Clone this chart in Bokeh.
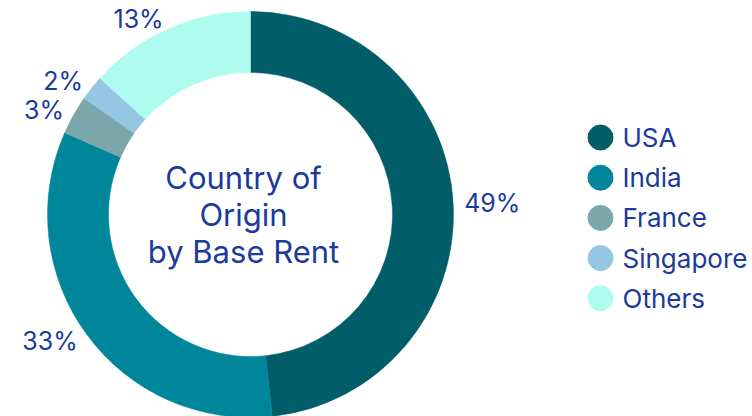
import math
from bokeh.plotting import figure
from bokeh.models import ColumnDataSource, Range1d
from bokeh.core.properties import value
from bokeh.embed import file_html
from bokeh.resources import INLINE

countries = ["USA", "India", "France", "Singapore", "Others"]
shares = [48.3, 33.3, 3.1, 2.0, 13.3]
share_labels = ["49%", "33%", "3%", "2%", "13%"]
colors = ["#015e69", "#00869a", "#7aa7ab", "#95c7e5", "#b0fbf0"]
center_title = ["Country of", "Origin", "by Base Rent"]

W, H = 752, 416
FONT = "Inter"
TXT = "#1a3a9c"

p = figure(width=W, height=H, output_backend="svg", toolbar_location=None,
           x_range=Range1d(0, W), y_range=Range1d(0, H), min_border=0)
p.axis.visible = False
p.grid.visible = False
p.outline_line_color = None
p.background_fill_color = "white"
p.border_fill_color = "white"

cx, cy = 250, H - 214
r_in, r_out = 142, 203

total = sum(shares)
starts, ends, lx, ly, align = [], [], [], [], []
acc = 0.0
for s in shares:
    t0 = acc / total * 2 * math.pi
    acc += s
    t1 = acc / total * 2 * math.pi
    starts.append(math.pi / 2 - t0)
    ends.append(math.pi / 2 - t1)
    mid = (t0 + t1) / 2
    rl = 214
    lx.append(cx + rl * math.sin(mid))
    ly.append(cy + rl * math.cos(mid))
    align.append("left" if math.sin(mid) >= 0 else "right")

src = ColumnDataSource(dict(start=starts, end=ends, color=colors,
                            lx=lx, ly=ly, lab=share_labels, align=align))
p.annular_wedge(x=cx, y=cy, inner_radius=r_in, outer_radius=r_out,
                start_angle="start", end_angle="end", direction="clock",
                fill_color="color", line_color="color", line_width=0.5, source=src)

p.text(x="lx", y="ly", text="lab", text_align="align", text_baseline="middle",
       text_font=value(FONT), text_font_size="25px", text_color=TXT, source=src)

# center title
tsrc = ColumnDataSource(dict(x=[cx - 7] * 3,
                             y=[cy + 37 - 37 * i for i in range(3)],
                             t=center_title))
p.text(x="x", y="y", text="t", text_align="center", text_baseline="middle",
       text_font=value(FONT), text_font_size="31px", text_color=TXT, source=tsrc)

# legend
leg_y = [H - 137 - 40.2 * i for i in range(len(countries))]
lsrc = ColumnDataSource(dict(x=[600] * 5, tx=[622] * 5, y=leg_y,
                             c=colors, t=countries))
p.scatter(x="x", y="y", size=25, marker="circle", fill_color="c",
          line_color="c", source=lsrc)
p.text(x="tx", y="y", text="t", text_align="left", text_baseline="middle",
       text_font=value(FONT), text_font_size="26px", text_color=TXT, source=lsrc)

open("out.html", "w").write(file_html(p, INLINE))
